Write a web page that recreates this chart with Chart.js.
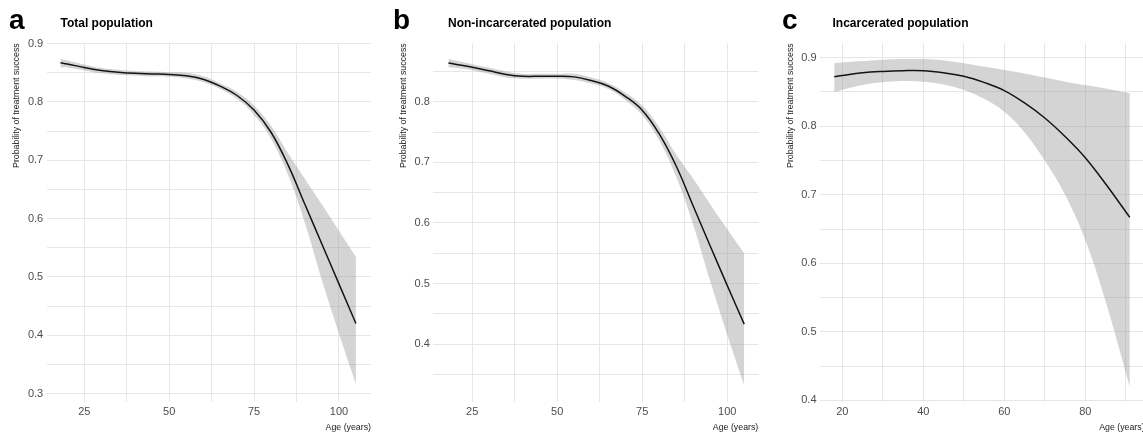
<!DOCTYPE html>
<html>
<head>
<meta charset="utf-8">
<script src="https://cdn.jsdelivr.net/npm/chart.js@4.4.1/dist/chart.umd.min.js"></script>
<style>
  html, body { margin:0; padding:0; background:#fff; width:1143px; height:434px; overflow:hidden; }
  #wrap { position:relative; width:1143px; height:434px; overflow:hidden; }
  canvas { position:absolute; top:0; }
  .lbl { position:absolute; font-family:'Liberation Sans', Arial, sans-serif; font-weight:bold; color:#000; line-height:1; white-space:nowrap; }
  .letter { font-size:28px; top:6px; }
  .ttl { font-size:12px; top:16.7px; }
</style>
</head>
<body>
<div id="wrap">
  <canvas id="chartA" width="380" height="434" style="left:0"></canvas>
  <canvas id="chartB" width="380" height="434" style="left:380px"></canvas>
  <canvas id="chartC" width="390" height="434" style="left:760px"></canvas>
  <div class="lbl letter" style="left:9px">a</div>
  <div class="lbl ttl" style="left:60.5px">Total population</div>
  <div class="lbl letter" style="left:393px">b</div>
  <div class="lbl ttl" style="left:448px">Non-incarcerated population</div>
  <div class="lbl letter" style="left:782px">c</div>
  <div class="lbl ttl" style="left:832.5px">Incarcerated population</div>
</div>
<script>
// age grid (years) for panels a and b
const agesA = [18, 20, 25, 30, 35, 40, 45, 50, 55, 60, 65, 70, 75, 80, 85, 90, 95, 100, 105];
const fitA  = [0.867, 0.865, 0.859, 0.854, 0.851, 0.849, 0.848, 0.847, 0.845, 0.839, 0.827, 0.811, 0.786, 0.748, 0.692, 0.624, 0.556, 0.488, 0.420];
const lowA  = [0.859, 0.859, 0.854, 0.849, 0.846, 0.845, 0.844, 0.843, 0.840, 0.834, 0.822, 0.805, 0.778, 0.737, 0.675, 0.592, 0.494, 0.403, 0.316];
const upA   = [0.874, 0.871, 0.864, 0.858, 0.855, 0.853, 0.852, 0.851, 0.850, 0.844, 0.832, 0.817, 0.794, 0.759, 0.712, 0.668, 0.624, 0.579, 0.534];

const agesB = [18, 20, 25, 30, 35, 40, 45, 50, 55, 60, 65, 70, 75, 80, 85, 90, 95, 100, 105];
const fitB  = [0.864, 0.862, 0.857, 0.851, 0.845, 0.842, 0.842, 0.842, 0.841, 0.835, 0.826, 0.809, 0.786, 0.747, 0.694, 0.628, 0.562, 0.497, 0.433];
const lowB  = [0.857, 0.856, 0.852, 0.846, 0.840, 0.838, 0.838, 0.838, 0.836, 0.830, 0.821, 0.803, 0.778, 0.736, 0.676, 0.597, 0.504, 0.416, 0.332];
const upB   = [0.871, 0.868, 0.862, 0.856, 0.850, 0.846, 0.846, 0.846, 0.846, 0.840, 0.831, 0.815, 0.794, 0.758, 0.713, 0.673, 0.631, 0.590, 0.550];

const agesC = [18, 20, 25, 30, 35, 40, 45, 50, 55, 60, 65, 70, 75, 80, 85, 91];
const fitC  = [0.872, 0.874, 0.878, 0.880, 0.881, 0.881, 0.878, 0.873, 0.864, 0.852, 0.834, 0.812, 0.785, 0.754, 0.716, 0.667];
const lowC  = [0.850, 0.853, 0.860, 0.864, 0.866, 0.865, 0.861, 0.853, 0.840, 0.821, 0.791, 0.750, 0.700, 0.634, 0.545, 0.420];
const upC   = [0.892, 0.893, 0.895, 0.897, 0.898, 0.898, 0.896, 0.892, 0.887, 0.882, 0.877, 0.871, 0.865, 0.860, 0.855, 0.848];

const xLabelsAB = [25, 50, 75, 100];
const xLabelsC  = [20, 40, 60, 80];
const yLabels   = [0.3, 0.4, 0.5, 0.6, 0.7, 0.8, 0.9];

const FONT = "'Liberation Sans', Arial, sans-serif";
const GRID = '#e6e6e6';
const RIBBON = 'rgba(153,153,153,0.42)';

function pts(xs, ys){ return xs.map((x, i) => ({ x: x, y: ys[i] })); }
function near(v, list){ return list.some(t => Math.abs(t - v) < 1e-6); }

function makePanel(id, cfg){
  const ctx = document.getElementById(id).getContext('2d');
  return new Chart(ctx, {
    type: 'line',
    data: { datasets: [
      { data: pts(cfg.ages, cfg.fit), borderColor:'#141414', borderWidth:1.5, pointRadius:0, fill:false, tension:0.4 },
      { data: pts(cfg.ages, cfg.up), borderWidth:0, borderColor:'rgba(0,0,0,0)', backgroundColor:RIBBON, pointRadius:0, fill:'+1', tension:0.4 },
      { data: pts(cfg.ages, cfg.low), borderWidth:0, borderColor:'rgba(0,0,0,0)', pointRadius:0, fill:false, tension:0.4 }
    ]},
    options: {
      responsive:false, animation:false, events:[],
      layout: { padding: { left:0, right:cfg.padRight, top:43.3, bottom:0 } },
      plugins: { legend:{ display:false }, tooltip:{ enabled:false } },
      scales: {
        x: {
          type:'linear', min:cfg.xmin, max:cfg.xmax,
          afterFit: s => { s.height = 32.3; },
          border:{ display:false },
          grid:{ color:GRID, lineWidth:1, drawTicks:false },
          ticks:{ stepSize:cfg.xstep, includeBounds:false, autoSkip:false, maxRotation:0, padding:3.4,
                  color:'#4d4d4d', font:{ family:FONT, size:11 },
                  callback: v => near(v, cfg.xLabels) ? String(Math.round(v)) : '' },
          title:{ display:true, text:'Age (years)', align:'end', color:'#1a1a1a',
                  font:{ family:FONT, size:8.8 }, padding:{ top:0, bottom:1.2 } }
        },
        y: {
          type:'linear', min:cfg.ymin, max:cfg.ymax,
          afterFit: s => { s.width = cfg.yWidth; },
          border:{ display:false },
          grid:{ color:GRID, lineWidth:1, drawTicks:false },
          ticks:{ stepSize:0.05, includeBounds:false, autoSkip:false, padding:3.5,
                  color:'#4d4d4d', font:{ family:FONT, size:11 },
                  callback: v => near(v, yLabels) ? v.toFixed(1) : '' },
          title:{ display:true, text:'Probability of treatment success', align:'end', color:'#1a1a1a',
                  font:{ family:FONT, size:8.8 }, padding:{ top:cfg.titlePad, bottom:0 } }
        }
      }
    }
  });
}

makePanel('chartA', { ages:agesA, fit:fitA, low:lowA, up:upA, xmin:13.94, xmax:109.44, xstep:12.5, xLabels:xLabelsAB,
  ymin:0.286, ymax:0.9005, yWidth:46.7, titlePad:11.4, padRight:9 });
makePanel('chartB', { ages:agesB, fit:fitB, low:lowB, up:upB, xmin:13.55, xmax:109.15, xstep:12.5, xLabels:xLabelsAB,
  ymin:0.305, ymax:0.8964, yWidth:53.3, titlePad:18.7, padRight:1.7 });
makePanel('chartC', { ages:agesC, fit:fitC, low:lowC, up:upC, xmin:14.49, xmax:94.65, xstep:10, xLabels:xLabelsC,
  ymin:0.398, ymax:0.921, yWidth:60, titlePad:25.7, padRight:5.4 });
</script>
</body>
</html>
